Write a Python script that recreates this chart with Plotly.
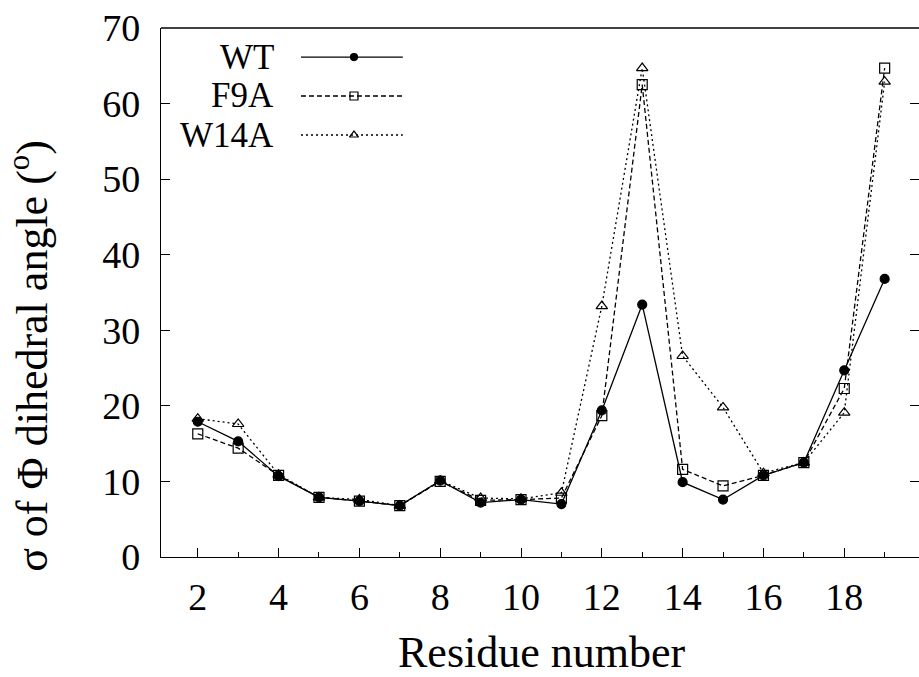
import plotly.graph_objects as go

# Standard deviation of the backbone phi dihedral angle per residue
residues = list(range(2, 20))
wt = [17.9, 15.3, 10.7, 7.9, 7.4, 6.8, 10.1, 7.2, 7.6, 7.0, 19.4, 33.4, 9.9, 7.6, 10.8, 12.5, 24.7, 36.8]
f9a = [16.3, 14.4, 10.8, 7.9, 7.4, 6.8, 10.0, 7.5, 7.6, 7.8, 18.7, 62.5, 11.6, 9.4, 10.8, 12.5, 22.3, 64.7]
w14a = [18.3, 17.6, 10.9, 7.9, 7.6, 6.8, 10.1, 7.8, 7.7, 8.5, 33.2, 64.7, 26.6, 19.8, 11.1, 12.5, 19.1, 62.9]

series_names = ["WT", "F9A", "W14A"]
x_ticks = [2, 4, 6, 8, 10, 12, 14, 16, 18]
y_ticks = [0, 10, 20, 30, 40, 50, 60, 70]

FONT = "Liberation Serif"
styles = {
    "WT": dict(dash="solid", symbol="circle", size=9),
    "F9A": dict(dash="5px,3px", symbol="square-open", size=10),
    "W14A": dict(dash="2px,3px", symbol="triangle-up-open", size=10),
}

fig = go.Figure()
for name, vals in zip(series_names, [wt, f9a, w14a]):
    st = styles[name]
    fig.add_trace(go.Scatter(
        x=residues, y=vals, mode="lines+markers", name=name,
        line=dict(color="black", width=1.3, dash=st["dash"]),
        marker=dict(symbol=st["symbol"], size=st["size"], color="black",
                    line=dict(color="black", width=1.2)),
        showlegend=False,
    ))

# hand-placed key: label to the left, sample line with marker to the right
key_rows = [0.945, 0.8715, 0.7977]
for name, yk in zip(series_names, key_rows):
    st = styles[name]
    fig.add_trace(go.Scatter(
        x=[0.1847, 0.319], y=[yk, yk], mode="lines", xaxis="x3", yaxis="y3",
        line=dict(color="black", width=1.3, dash=st["dash"]), showlegend=False,
        hoverinfo="skip"))
    fig.add_trace(go.Scatter(
        x=[0.2546], y=[yk], mode="markers", xaxis="x3", yaxis="y3",
        marker=dict(symbol=st["symbol"], size=st["size"] - 2, color="black",
                    line=dict(color="black", width=1.2)),
        showlegend=False, hoverinfo="skip"))
    fig.add_annotation(x=0.1517, y=yk, xref="x3", yref="y3", text=name,
                       showarrow=False, xanchor="right", yanchor="middle",
                       font=dict(family=FONT, size=35, color="black"))

# empty trace so the mirrored right-hand tick axis is drawn
fig.add_trace(go.Scatter(x=[None], y=[None], yaxis="y2", showlegend=False,
                         hoverinfo="skip"))

fig.update_layout(
    width=919, height=677,
    margin=dict(l=161, r=0, t=28, b=120),
    paper_bgcolor="white", plot_bgcolor="white",
    xaxis=dict(
        range=[1.09, 19.85], tickvals=x_ticks, ticks="inside", ticklen=9,
        tickwidth=1.3, tickcolor="black", showline=True, linecolor="black",
        linewidth=1.4, showgrid=False, zeroline=False,
        ticklabelstandoff=6,
        tickfont=dict(family=FONT, size=38, color="black"),
        minor=dict(tickvals=[3, 5, 7, 9, 11, 13, 15, 17, 19], ticks="inside",
                   ticklen=5, tickwidth=1.3, tickcolor="black", showgrid=False),
    ),
    yaxis=dict(
        range=[0, 70], tickvals=y_ticks, ticks="inside", ticklen=9,
        tickwidth=1.3, tickcolor="black", showline=True, linecolor="black",
        linewidth=1.4, showgrid=False, zeroline=False,
        ticklabelstandoff=12,
        tickfont=dict(family=FONT, size=38, color="black"),
    ),
    yaxis2=dict(
        range=[0, 70], overlaying="y", side="right", anchor="x",
        tickvals=y_ticks, ticks="inside", ticklen=9, tickwidth=1.3,
        tickcolor="black", showticklabels=False, showline=False,
        showgrid=False, zeroline=False,
    ),
    xaxis3=dict(range=[0, 1], overlaying="x", anchor="y3", visible=False),
    yaxis3=dict(range=[0, 1], overlaying="y", anchor="x3", visible=False),
    shapes=[dict(type="line", xref="paper", yref="paper", x0=0, x1=1, y0=1, y1=1,
                 line=dict(color="black", width=1.4))],
)

# axis titles
fig.add_annotation(text="Residue number", xref="paper", yref="paper",
                   x=0.503, y=-0.18, xanchor="center", yanchor="middle",
                   showarrow=False, font=dict(family=FONT, size=44, color="black"))
fig.add_annotation(text="σ of Φ dihedral angle (<sup>o</sup>)", xref="paper",
                   yref="paper", x=-0.173, y=0.38, xanchor="center",
                   yanchor="middle", textangle=-90, showarrow=False,
                   font=dict(family=FONT, size=44, color="black"))

fig.write_html("out.html")
